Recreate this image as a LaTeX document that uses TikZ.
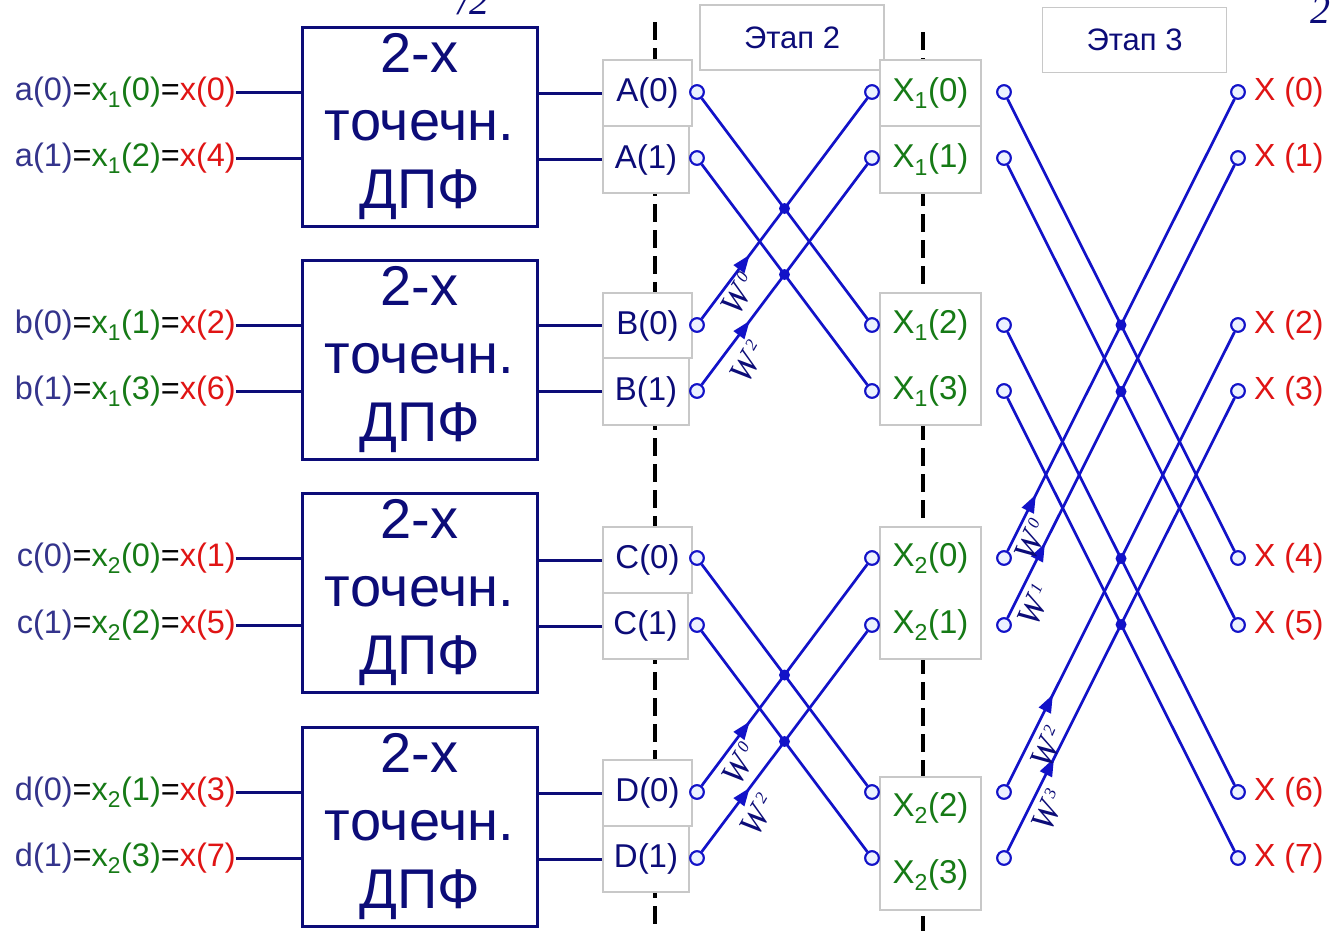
\documentclass[tikz,border=0pt]{standalone}
\usepackage{fontspec}
\setmainfont{Liberation Sans}
\newfontfamily\twiddlefont{Liberation Serif}
\usetikzlibrary{arrows.meta,decorations.markings}
\definecolor{boxnavy}{RGB}{12,12,120}
\definecolor{wireblue}{RGB}{18,18,200}
\definecolor{idxblue}{RGB}{52,52,140}
\definecolor{evengreen}{RGB}{22,122,22}
\definecolor{outred}{RGB}{224,20,20}
\definecolor{framegray}{RGB}{200,200,200}
\definecolor{portfill}{RGB}{236,242,255}
% input index chain: sub-sequence = half-sequence = original sample
\newcommand\seqlabel[3]{{\color{idxblue}#1}={\color{evengreen}#2}={\color{outred}#3}}
% twiddle factor W^k, with a small raised exponent
\newcommand\twf[1]{W\kern4pt\raisebox{11pt}{\fontsize{17}{17}\selectfont#1}}

\begin{document}
\begin{tikzpicture}[x=1pt,y=-1pt,
  dft/.style={draw=boxnavy,line width=3pt,minimum width=235pt,minimum height=199pt,inner sep=0pt,text=boxnavy,align=center,font=\fontsize{56}{68}\selectfont},
  inlab/.style={anchor=east,inner sep=0pt,font=\fontsize{32.5}{32.5}\selectfont},
  feed/.style={draw=boxnavy,line width=3pt},
  lframe/.style={draw=framegray,fill=white,line width=1.2pt,inner sep=0pt,text=boxnavy,font=\fontsize{33}{33}\selectfont},
  rframe/.style={draw=framegray,fill=white,line width=1.2pt,inner sep=0pt,text=evengreen,font=\fontsize{33}{33}\selectfont},
  rtext/.style={inner sep=0pt,text=evengreen,font=\fontsize{33}{33}\selectfont},
  stagebox/.style={draw=framegray,fill=white,line width=1.2pt,minimum width=184pt,minimum height=65pt,inner sep=0pt,text=boxnavy,font=\fontsize{31}{31}\selectfont},
  stagesep/.style={draw=black,line width=3.5pt,dash pattern=on 18pt off 8pt},
  port/.style={circle,draw=wireblue,fill=portfill,line width=2pt,minimum size=13.5pt,inner sep=0pt},
  junct/.style={circle,fill=wireblue,minimum size=11pt,inner sep=0pt},
  wire/.style={color=wireblue,line width=2.7pt},
  twiddle/.style={postaction={decorate},decoration={markings,mark=at position #1 with {\arrow{Triangle[length=18pt,width=13pt]}}}},
  wlab/.style={inner sep=0pt,text=boxnavy,font=\fontsize{34}{34}\selectfont\twiddlefont\itshape},
  outlab/.style={anchor=west,inner sep=0pt,text=outred,font=\fontsize{32}{32}\selectfont},
  cutlab/.style={anchor=base west,inner sep=0pt,text=boxnavy,font=\fontsize{40}{40}\selectfont\twiddlefont\itshape}
]
\useasboundingbox (0,0) rectangle (1331,930);
\fill[white] (0,0) rectangle (1331,930);

% fragments of running text at the top edge
\node[cutlab] (topfrag1) at (458,14) {/2};
\node[cutlab] (topfrag2) at (1310,23) {2};

% dashed stage separators
\coordinate (s2top) at (655,22);  \coordinate (s2bot) at (655,934);
\coordinate (s3top) at (923,32);  \coordinate (s3bot) at (923,934);
\draw[stagesep] (s2top) -- (s2bot);
\draw[stagesep] (s3top) -- (s3bot);

% stage titles
\node[stagebox] (st2) at (792,37.5) {Этап 2};
\node[stagebox] (st3) at (1134.5,40) {Этап 3};

% two-point DFT blocks
\node[dft] (dft1) at (419.5,126.5) {2-х\\точечн.\\ДПФ};
\node[dft] (dft2) at (419.5,359.5) {2-х\\точечн.\\ДПФ};
\node[dft] (dft3) at (419.5,592.5) {2-х\\точечн.\\ДПФ};
\node[dft] (dft4) at (419.5,826.5) {2-х\\точечн.\\ДПФ};

% input samples
\node[inlab] (ia0) at (236,92)  {\seqlabel{a(0)}{x\textsubscript{1}(0)}{x(0)}};
\node[inlab] (ia1) at (236,158) {\seqlabel{a(1)}{x\textsubscript{1}(2)}{x(4)}};
\node[inlab] (ib0) at (236,325) {\seqlabel{b(0)}{x\textsubscript{1}(1)}{x(2)}};
\node[inlab] (ib1) at (236,391) {\seqlabel{b(1)}{x\textsubscript{1}(3)}{x(6)}};
\node[inlab] (ic0) at (236,558) {\seqlabel{c(0)}{x\textsubscript{2}(0)}{x(1)}};
\node[inlab] (ic1) at (236,625) {\seqlabel{c(1)}{x\textsubscript{2}(2)}{x(5)}};
\node[inlab] (id0) at (236,792) {\seqlabel{d(0)}{x\textsubscript{2}(1)}{x(3)}};
\node[inlab] (id1) at (236,858) {\seqlabel{d(1)}{x\textsubscript{2}(3)}{x(7)}};
\foreach \n/\b in {ia0/dft1,ia1/dft1,ib0/dft2,ib1/dft2,ic0/dft3,ic1/dft3,id0/dft4,id1/dft4}
  \draw[feed] (\n.east) -- (\n.east -| \b.west);

% DFT outputs
\node[lframe,minimum width=89pt,minimum height=66pt] (lA0) at (647.5,93)    {A(0)};
\node[lframe,minimum width=86pt,minimum height=67pt] (lA1) at (646,159.5)   {A(1)};
\node[lframe,minimum width=89pt,minimum height=65pt] (lB0) at (647.5,325.5) {B(0)};
\node[lframe,minimum width=86pt,minimum height=67pt] (lB1) at (646,391.5)   {B(1)};
\node[lframe,minimum width=89pt,minimum height=66pt] (lC0) at (647.5,560)   {C(0)};
\node[lframe,minimum width=85pt,minimum height=66pt] (lC1) at (645.5,626)   {C(1)};
\node[lframe,minimum width=89pt,minimum height=66pt] (lD0) at (647.5,793)   {D(0)};
\node[lframe,minimum width=86pt,minimum height=66pt] (lD1) at (646,859)     {D(1)};
\foreach \n/\b in {lA0/dft1,lA1/dft1,lB0/dft2,lB1/dft2,lC0/dft3,lC1/dft3,lD0/dft4,lD1/dft4}
  \draw[feed] (\n.west -| \b.east) -- (\n.west);

% stage-2 results
\node[rframe,minimum width=101pt,minimum height=66pt] (rX10) at (930.5,93)  {X\textsubscript{1}(0)};
\node[rframe,minimum width=101pt,minimum height=67pt] (rX11) at (930.5,159.5) {X\textsubscript{1}(1)};
\node[rframe,minimum width=101pt,minimum height=132pt] (rX1b) at (930.5,359) {};
\node[rtext] (tX12) at (930.5,325) {X\textsubscript{1}(2)};
\node[rtext] (tX13) at (930.5,391) {X\textsubscript{1}(3)};
\node[rframe,minimum width=101pt,minimum height=132pt] (rX2a) at (930.5,593) {};
\node[rtext] (tX20) at (930.5,558) {X\textsubscript{2}(0)};
\node[rtext] (tX21) at (930.5,625) {X\textsubscript{2}(1)};
\node[rframe,minimum width=101pt,minimum height=133pt] (rX2b) at (930.5,843.5) {};
\node[rtext] (tX22) at (930.5,808) {X\textsubscript{2}(2)};
\node[rtext] (tX23) at (930.5,875) {X\textsubscript{2}(3)};

% ports of the butterflies
\foreach \n/\y in {A0/92,A1/158,B0/325,B1/391,C0/558,C1/625,D0/792,D1/858}
  \coordinate (c\n) at (697,\y);
\foreach \n/\y in {10/92,11/158,12/325,13/391,20/558,21/625,22/792,23/858}
  {\coordinate (cq\n) at (872,\y); \coordinate (cs\n) at (1004,\y);}
\foreach \n/\y in {0/92,1/158,2/325,3/391,4/558,5/625,6/792,7/858}
  \coordinate (co\n) at (1238,\y);

\foreach \n in {A0,A1,B0,B1,C0,C1,D0,D1}
  \node[port] (p\n) at (c\n) {};
\foreach \n in {10,11,12,13,20,21,22,23}
  {\node[port] (q\n) at (cq\n) {}; \node[port] (s\n) at (cs\n) {};}
\foreach \n in {0,...,7}
  \node[port] (o\n) at (co\n) {};

% stage 2 butterflies
\draw[wire] (pA0) -- (q12);
\draw[wire] (pA1) -- (q13);
\draw[wire,twiddle=0.29] (pB0) -- (q10);
\draw[wire,twiddle=0.29] (pB1) -- (q11);
\draw[wire] (pC0) -- (q22);
\draw[wire] (pC1) -- (q23);
\draw[wire,twiddle=0.29] (pD0) -- (q20);
\draw[wire,twiddle=0.29] (pD1) -- (q21);

% stage 3 butterflies
\draw[wire] (s10) -- (o4);
\draw[wire] (s11) -- (o5);
\draw[wire] (s12) -- (o6);
\draw[wire] (s13) -- (o7);
\draw[wire,twiddle=0.125] (s20) -- (o0);
\draw[wire,twiddle=0.165] (s21) -- (o1);
\draw[wire,twiddle=0.2]   (s22) -- (o2);
\draw[wire,twiddle=0.205] (s23) -- (o3);

% redraw ports over wire ends
\foreach \n in {A0,A1,B0,B1,C0,C1,D0,D1}
  \node[port] at (c\n) {};
\foreach \n in {10,11,12,13,20,21,22,23}
  {\node[port] at (cq\n) {}; \node[port] at (cs\n) {};}
\foreach \n in {0,...,7}
  \node[port] at (co\n) {};

% butterfly junctions
\node[junct] (j1) at (intersection of pA0--q12 and pB0--q10) {};
\node[junct] (j2) at (intersection of pA1--q13 and pB1--q11) {};
\node[junct] (j3) at (intersection of pC0--q22 and pD0--q20) {};
\node[junct] (j4) at (intersection of pC1--q23 and pD1--q21) {};
\node[junct] (j5) at (intersection of s10--o4 and s20--o0) {};
\node[junct] (j6) at (intersection of s11--o5 and s21--o1) {};
\node[junct] (j7) at (intersection of s12--o6 and s22--o2) {};
\node[junct] (j8) at (intersection of s13--o7 and s23--o3) {};

% twiddle factors
\node[wlab,rotate=60] (w1) at (739,294) {\twf{0}};
\node[wlab,rotate=60] (w2) at (748,362) {\twf{2}};
\node[wlab,rotate=60] (w3) at (740,764) {\twf{0}};
\node[wlab,rotate=60] (w4) at (758,815) {\twf{2}};
\node[wlab,rotate=66] (w5) at (1032,540) {\twf{0}};
\node[wlab,rotate=66] (w6) at (1035,605) {\twf{1}};
\node[wlab,rotate=66] (w7) at (1048,747) {\twf{2}};
\node[wlab,rotate=66] (w8) at (1049,810) {\twf{3}};

% outputs
\foreach \k in {0,...,7}
  \node[outlab] (X\k) at ([xshift=16pt]o\k.center) {X (\k)};
\end{tikzpicture}
\end{document}
